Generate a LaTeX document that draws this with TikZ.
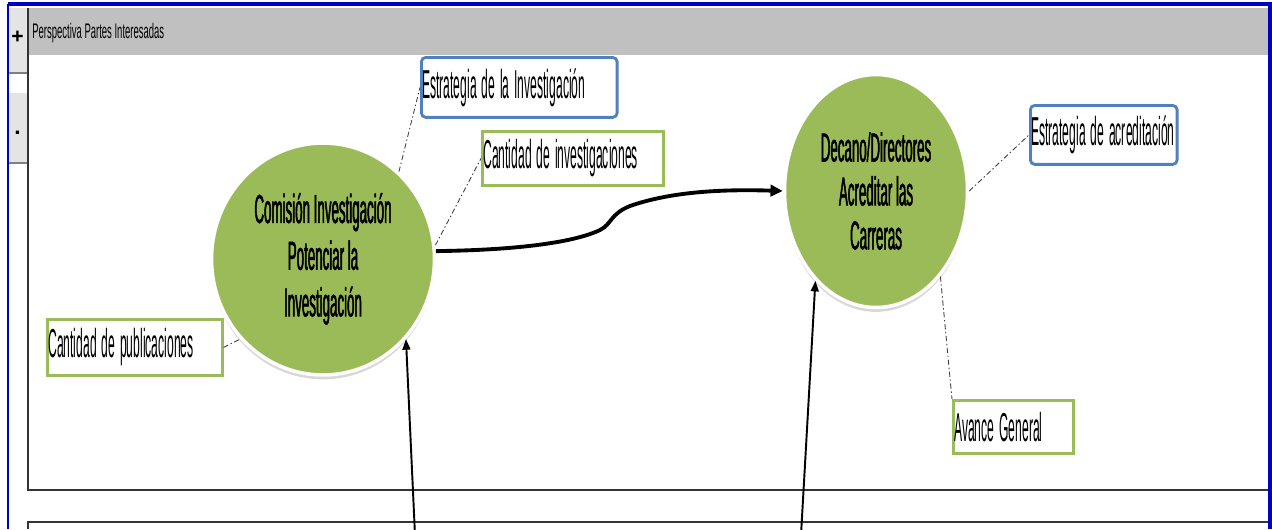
\documentclass[tikz,border=0pt]{standalone}
\usepackage{fontspec}
\setmainfont{Liberation Sans}
\newfontfamily\boxfont[FakeStretch=0.30]{Liberation Sans}
\newfontfamily\actorfont[FakeStretch=0.33,FakeBold=1.2]{Liberation Sans}
\newfontfamily\tabfont[FakeStretch=0.45]{Liberation Sans}
\usetikzlibrary{arrows.meta,shapes.geometric,shadows}

\definecolor{kpigreen}{HTML}{9BBB59}
\definecolor{kpiblue}{HTML}{4F81BD}
\definecolor{frameblue}{HTML}{0000C8}
\definecolor{barsilver}{HTML}{C0C0C0}
\definecolor{btngray}{HTML}{E4E4E4}

\tikzset{
  actor/.style={ellipse, fill=kpigreen, draw=white, line width=2pt,
    drop shadow={shadow xshift=0pt, shadow yshift=-2.5pt, opacity=0.3},
    align=center, inner sep=0pt},
  kpi/.style={draw=kpigreen, line width=1.6pt, fill=white, anchor=north west,
    align=left, inner xsep=0.5pt, inner ysep=0pt,
    font=\boxfont\fontsize{23}{26}\selectfont,
    execute at begin node={\spaceskip=2.8pt\xspaceskip=2.8pt}},
  strat/.style={kpi, draw=kpiblue, rounded corners=2.5pt},
  link/.style={black!75, line width=0.5pt,
    dash pattern=on 3pt off 1.5pt on 0.8pt off 1.5pt},
  flow/.style={line width=2.2pt, -{Triangle[length=7pt,width=6.5pt]}},
  feed/.style={line width=1.1pt, -{Triangle[length=6pt,width=4.5pt]}},
}

\begin{document}
\begin{tikzpicture}[x=0.02cm,y=-0.02cm]
\useasboundingbox[fill=white] (0,0) rectangle (1272,529);

% header bar and side buttons
\fill[barsilver] (29,8) rectangle (1268,55);
\node[anchor=west, inner sep=0pt, font=\tabfont\fontsize{12}{14}\selectfont] (title) at (32,33) {Perspectiva Partes Interesadas};
\fill[btngray] (8,8) rectangle (27,73);
\draw[gray, line width=1pt] (8,73) -- (27,73);
\fill[btngray] (8,93) rectangle (27,163);
\draw[gray, line width=1pt] (8,163) -- (27,163);
\node[font=\bfseries\fontsize{12}{12}\selectfont] (plus) at (17.5,37) {+};
\node[font=\bfseries\fontsize{13}{13}\selectfont] (dot) at (17.5,133) {.};

% panel borders
\draw[black!80, line width=1.2pt] (28,8) -- (28,490) -- (1268,490);
\draw[black!80, line width=1.2pt] (28,529) -- (28,522) -- (1268,522);
\draw[frameblue, line width=1pt] (8,529) -- (8,4);
\draw[frameblue, line width=2pt] (7.5,4) -- (1270,4) -- (1270,529);

% actors
\node[actor, minimum width=4.46cm, minimum height=4.64cm,
  font=\actorfont\fontsize{23}{26.6}\selectfont] (comision) at (323,259)
  {Comisión Investigación\\Potenciar la\\Investigación};
\node[actor, minimum width=3.66cm, minimum height=4.66cm,
  font=\actorfont\fontsize{23}{25}\selectfont] (decano) at (876,191)
  {Decano/Directores\\Acreditar las\\Carreras};

% indicators
\node[strat, text width=3.88cm, minimum height=1.2cm] (estInv) at (420,56) {Estrategia de la Investigación};
\node[kpi, text width=3.58cm, minimum height=1.08cm] (cantInv) at (481,130) {Cantidad de investigaciones};
\node[kpi, text width=3.46cm, minimum height=1.12cm] (cantPub) at (46,318) {Cantidad de publicaciones};
\node[strat, text width=2.9cm, minimum height=1.18cm] (estAcr) at (1029,104) {Estrategia de acreditación};
\node[kpi, text width=2.36cm, minimum height=1.06cm] (avance) at (952,399) {Avance General};

\draw[link] (comision.49) -- (estInv.west);
\draw[link] (comision.7) -- (cantInv.west);
\draw[link] (cantPub.east) -- (comision.224);
\draw[link] (decano.east) -- (estAcr.west);
\draw[link] (decano.307) -- (avance.north west);

% relations
\coordinate (dip) at (600,230);
\coordinate (rise) at (630,206);
\draw[flow] (comision.4) .. controls (520,250) and (575,242) .. (dip)
  .. controls (612,224) and (610,214) .. (rise)
  .. controls (670,192) and (720,189) .. (decano.west);
\coordinate (feedA) at (415,535);
\coordinate (feedB) at (801,535);
\draw[feed] (feedA) -- (comision.316);
\draw[feed] (feedB) -- (decano.236);
\end{tikzpicture}
\end{document}
